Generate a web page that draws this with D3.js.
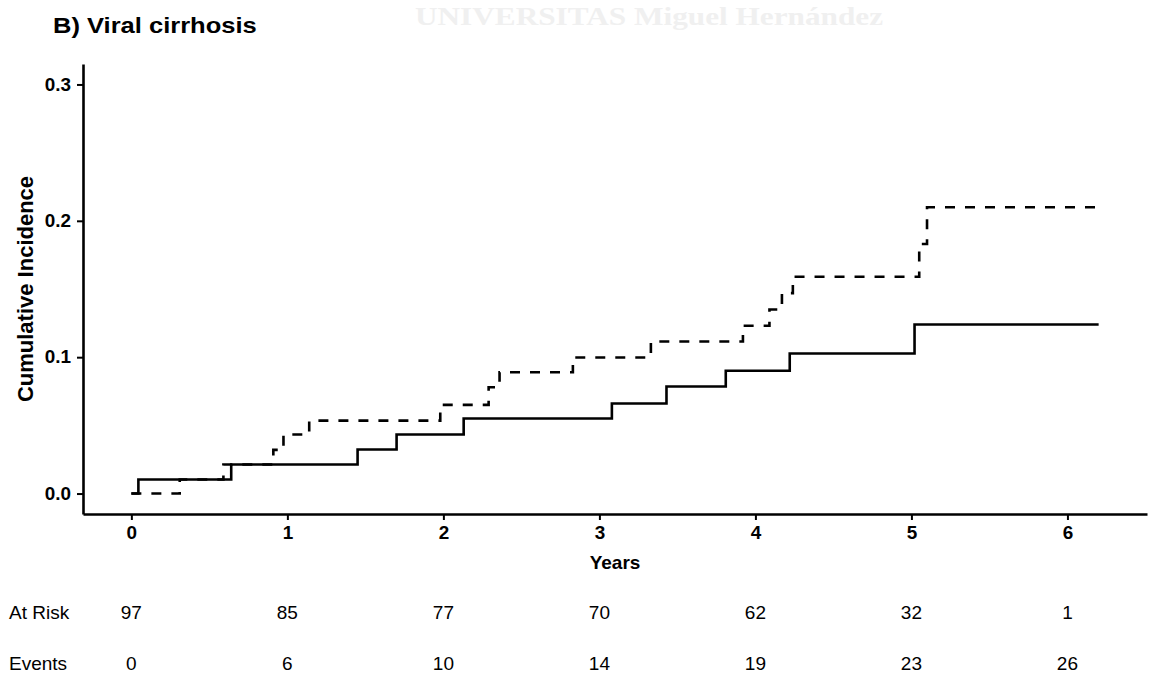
<!DOCTYPE html>
<html>
<head>
<meta charset="utf-8">
<script src="https://cdn.jsdelivr.net/npm/d3@7"></script>
<style>
  body { margin: 0; background: #fff; }
  text { font-family: "Liberation Sans", Arial, Helvetica, sans-serif; }
  text.watermark { font-family: "Liberation Serif", "DejaVu Serif", serif; }
</style>
</head>
<body>
<svg id="chart"></svg>
<script>
var svgWidth = 1154, svgHeight = 683;

// step curves (years, cumulative incidence)
var solidTimes = [0, 0.045, 0.64, 1.45, 1.70, 2.13, 3.08, 3.43, 3.81, 4.22, 5.02, 6.2];
var solidCI    = [0, 0.0103, 0.0213, 0.0323, 0.0433, 0.0550, 0.0660, 0.0785, 0.0900, 0.1027, 0.1240, 0.1240];

var dashedTimes = [0, 0.31, 0.59, 0.91, 0.975, 1.14, 1.98, 2.29, 2.36, 2.83, 3.33, 3.92, 4.09, 4.17, 4.24, 5.05, 5.10, 6.2];
var dashedCI    = [0, 0.0103, 0.0213, 0.0320, 0.0433, 0.0535, 0.0650, 0.0780, 0.0890, 0.0998, 0.1115, 0.1230, 0.1350, 0.1470, 0.1590, 0.1830, 0.2100, 0.2100];

var xTicks = [0, 1, 2, 3, 4, 5, 6];
var yTicks = [0, 0.1, 0.2, 0.3];
var atRisk = [97, 85, 77, 70, 62, 32, 1];
var events = [0, 6, 10, 14, 19, 23, 26];

function stretch(sel, k) {
  sel.each(function() {
    var w = this.getComputedTextLength();
    d3.select(this).attr('textLength', w * k).attr('lengthAdjust', 'spacingAndGlyphs');
  });
}

var svg = d3.select('#chart').attr('width', svgWidth).attr('height', svgHeight);

// faint watermark behind the plot
svg.append('text')
  .attr('class', 'watermark')
  .attr('x', 415).attr('y', 25)
  .attr('font-weight', 'bold')
  .attr('font-size', 25)
  .attr('fill', '#f0f0f0')
  .attr('textLength', 468)
  .attr('lengthAdjust', 'spacingAndGlyphs')
  .text('UNIVERSITAS Miguel Hernández');

var x = d3.scaleLinear().domain([-0.31, 6.51]).range([83, 1147]);
var y = d3.scaleLinear().domain([-0.015, 0.315]).range([514, 64]);

// axes
var yAxis = svg.append('g')
  .attr('transform', 'translate(83,0)')
  .call(d3.axisLeft(y).tickValues(yTicks).tickFormat(d3.format('.1f'))
    .tickSize(6).tickSizeOuter(0).tickPadding(6));
var xAxis = svg.append('g')
  .attr('transform', 'translate(0,514)')
  .call(d3.axisBottom(x).tickValues(xTicks).tickFormat(d3.format('d'))
    .tickSize(6).tickSizeOuter(0).tickPadding(6));

[yAxis, xAxis].forEach(function(g) {
  g.attr('font-family', null).attr('font-size', 18).attr('font-weight', 'bold');
  g.select('.domain').attr('stroke', '#000').attr('stroke-width', 2.6);
  g.selectAll('.tick line').attr('stroke', '#000').attr('stroke-width', 2);
  g.selectAll('.tick text').attr('fill', '#000');
  stretch(g.selectAll('.tick text'), 1.05);
});

// step lines
var line = d3.line()
  .x(function(d) { return x(d[0]); })
  .y(function(d) { return y(d[1]); })
  .curve(d3.curveStepAfter);

svg.append('path')
  .datum(d3.zip(solidTimes, solidCI))
  .attr('d', line)
  .attr('fill', 'none')
  .attr('stroke', '#000')
  .attr('stroke-width', 2.6);

svg.append('path')
  .datum(d3.zip(dashedTimes, dashedCI))
  .attr('d', line)
  .attr('fill', 'none')
  .attr('stroke', '#000')
  .attr('stroke-width', 2.6)
  .attr('stroke-dasharray', '10,10');

// titles
var title = svg.append('text')
  .attr('x', 53).attr('y', 33)
  .attr('font-size', 22).attr('font-weight', 'bold')
  .text('B) Viral cirrhosis');
stretch(title, 1.16);

svg.append('text')
  .attr('x', 615).attr('y', 569)
  .attr('text-anchor', 'middle')
  .attr('font-size', 19).attr('font-weight', 'bold')
  .text('Years');

svg.append('text')
  .attr('transform', 'translate(33,289) rotate(-90)')
  .attr('text-anchor', 'middle')
  .attr('font-size', 22).attr('font-weight', 'bold')
  .text('Cumulative Incidence');

// risk table
var rows = [
  { label: 'At Risk', values: atRisk, y: 619 },
  { label: 'Events', values: events, y: 670 }
];

var table = svg.append('g').attr('class', 'risk-table');
rows.forEach(function(r) {
  var key = 'n-' + r.label.replace(' ', '');
  table.append('text')
    .attr('x', 9).attr('y', r.y)
    .attr('font-size', 19)
    .text(r.label);

  table.selectAll('text.' + key)
    .data(r.values)
    .enter()
    .append('text')
    .attr('class', key)
    .attr('x', function(d, i) { return x(xTicks[i]); })
    .attr('y', r.y)
    .attr('text-anchor', 'middle')
    .attr('font-size', 19)
    .text(function(d) { return d; });
});
</script>
</body>
</html>
